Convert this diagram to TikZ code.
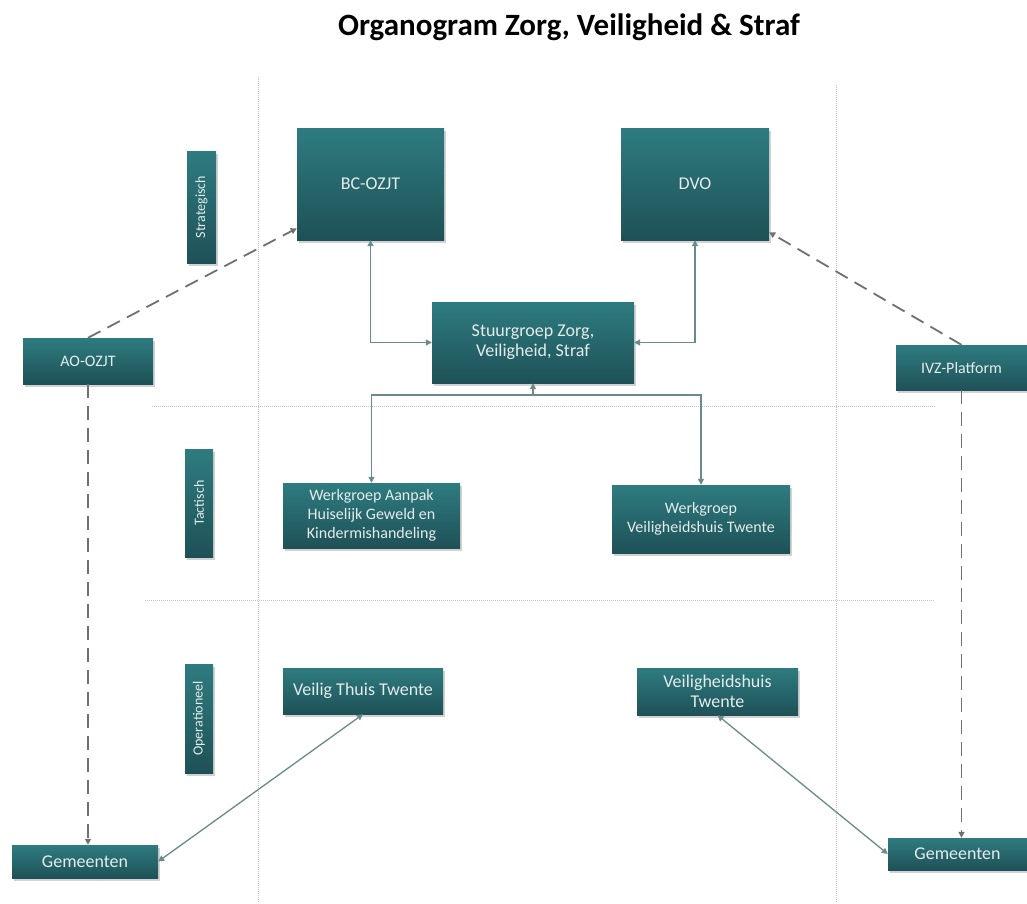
\documentclass[tikz,border=0pt]{standalone}
\usepackage{fontspec}
\setmainfont{Carlito}
\usetikzlibrary{arrows.meta,shadows}

\definecolor{boxtop}{HTML}{2E7C80}
\definecolor{boxbot}{HTML}{1E5157}
\definecolor{boxtext}{HTML}{E4EBEB}
\definecolor{linkcol}{HTML}{6A8A8C}
\definecolor{dashcol}{HTML}{707070}
\definecolor{gridcol}{HTML}{C4C4C4}

\begin{document}
\begin{tikzpicture}[x=1pt,y=-1pt,
   >={Triangle[length=6pt,width=6pt]},
   box/.style={draw=none,rectangle,top color=boxtop,bottom color=boxbot,
      text=boxtext,align=center,inner sep=2pt,
      font=\fontsize{18}{20}\selectfont,
      drop shadow={shadow xshift=2pt,shadow yshift=-3pt,opacity=0.35}},
   lvl/.style={box,rotate=90,font=\fontsize{14}{16}\selectfont},
   link/.style={draw=linkcol,line width=1.3pt},
   dashlink/.style={draw=dashcol,line width=1.8pt,dash pattern=on 14pt off 8pt},
   grid/.style={draw=gridcol,line width=1pt,densely dotted}]
   \useasboundingbox[fill=white] (0,0) rectangle (1027,903);
   % grid lines
   \draw[grid] (258,77) -- (258,903);
   \draw[grid] (836,85) -- (836,903);
   \draw[grid] (152,406) -- (935,406);
   \draw[grid] (145,600) -- (935,600);
   % title
   \node (title) at (569,27) {\fontsize{31}{34}\selectfont\bfseries Organogram Zorg, Veiligheid \& Straf};
   % level labels
   \node[lvl,minimum width=112pt,minimum height=29pt] (strat) at (201.5,207) {Strategisch};
   \node[lvl,minimum width=108pt,minimum height=28pt] (tact) at (199,503) {Tactisch};
   \node[lvl,minimum width=109pt,minimum height=28pt] (oper) at (199,718.5) {Operationeel};
   % boxes
   \node[box,minimum width=147pt,minimum height=112pt] (bc) at (370.5,184) {BC-OZJT};
   \node[box,minimum width=148pt,minimum height=112pt] (dvo) at (695,184) {DVO};
   \node[box,minimum width=202pt,minimum height=81pt] (stuur) at (533,342.5) {Stuurgroep Zorg,\\Veiligheid, Straf};
   \node[box,minimum width=130pt,minimum height=46pt,font=\fontsize{16}{18}\selectfont] (ao) at (88,361) {AO-OZJT};
   \node[box,minimum width=131pt,minimum height=45pt,font=\fontsize{16}{18}\selectfont] (ivz) at (961.5,367.5) {IVZ-Platform};
   \node[box,minimum width=177pt,minimum height=65pt,font=\fontsize{16}{19}\selectfont] (wga) at (371.5,515.5) {Werkgroep Aanpak\\Huiselijk Geweld en\\Kindermishandeling};
   \node[box,minimum width=178pt,minimum height=68pt,font=\fontsize{16}{19}\selectfont] (wgv) at (701,519) {Werkgroep\\Veiligheidshuis Twente};
   \node[box,minimum width=160pt,minimum height=46pt] (vtt) at (363,691) {Veilig Thuis Twente};
   \node[box,minimum width=161pt,minimum height=47pt] (vht) at (717.5,691.5) {Veiligheidshuis\\Twente};
   \node[box,minimum width=146pt,minimum height=33pt] (geml) at (85,861.5) {Gemeenten};
   \node[box,minimum width=139pt,minimum height=32pt] (gemr) at (957.5,854) {Gemeenten};
   % connectors
   \draw[link,<->] (bc.south) |- (stuur.west);
   \draw[link,<->] (dvo.south) |- (stuur.east);
   \coordinate (bus) at (533,395);
   \draw[link,->] (bus) -- (stuur.south);
   \draw[link,->] (bus) -| (wga.north);
   \draw[link,->] (bus) -| (wgv.north);
   \draw[dashlink,->] (ao.north) -- (bc.211);
   \draw[dashlink,->] (ivz.north) -- (dvo.327);
   \draw[dashlink,->] (ao.south) -- (ao.south |- geml.north);
   \draw[dashlink,->] (ivz.south) -- (ivz.south |- gemr.north);
   \draw[link,<->] (vtt.south) -- (geml.east);
   \draw[link,<->] (vht.south) -- (gemr.west);
\end{tikzpicture}
\end{document}
